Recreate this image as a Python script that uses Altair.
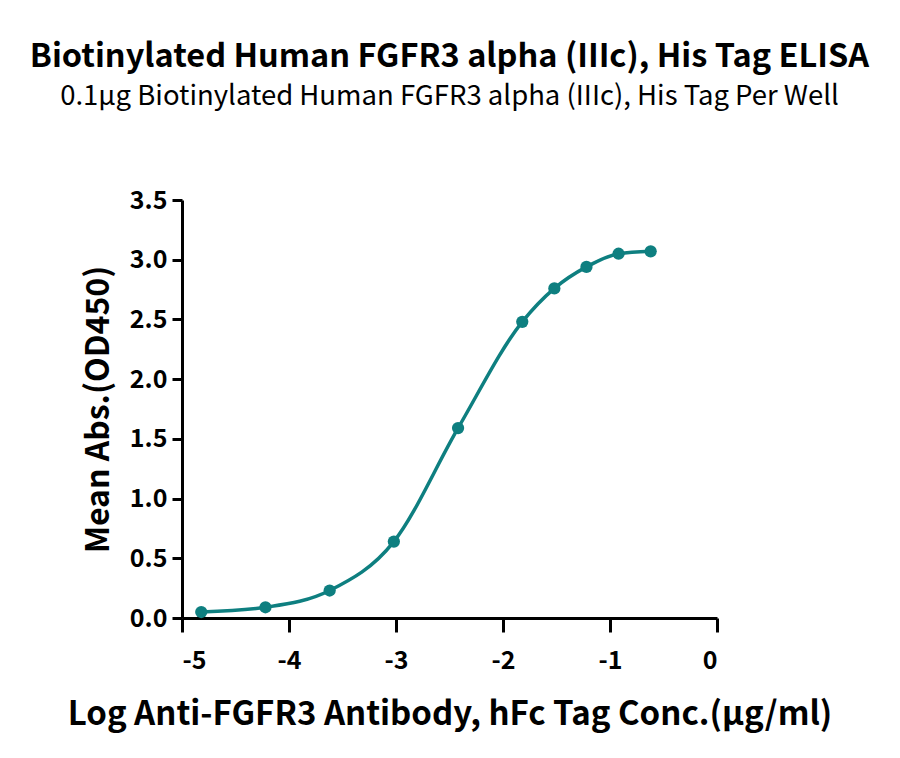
import altair as alt
import pandas as pd

# log10 concentration (ug/ml) and mean OD450
log_conc = [-4.82, -4.22, -3.62, -3.02, -2.42, -1.82, -1.52, -1.22, -0.92, -0.62]
od450 = [0.05, 0.09, 0.23, 0.64, 1.59, 2.48, 2.76, 2.94, 3.05, 3.07]

x_ticks = [-5, -4, -3, -2, -1, 0]
y_ticks = [0, 0.5, 1.0, 1.5, 2.0, 2.5, 3.0, 3.5]

teal = "#0E7F80"
font = "Noto Sans CJK SC"

df = pd.DataFrame({"x": log_conc, "y": od450})

x_enc = alt.X(
    "x:Q",
    scale=alt.Scale(domain=[-5, 0], nice=False, zero=False),
    axis=alt.Axis(
        values=x_ticks,
        labelExpr="datum.value < 0 ? '-' + abs(datum.value) : '' + datum.value",
        title="Log Anti-FGFR3 Antibody, hFc Tag Conc.(μg/ml)",
        titleFontSize=33,
        titlePadding=25,
        labelPadding=16,
        tickSize=14,
    ),
)
y_enc = alt.Y(
    "y:Q",
    scale=alt.Scale(domain=[0, 3.5], nice=False),
    axis=alt.Axis(
        values=y_ticks,
        format=".1f",
        title="Mean Abs.(OD450)",
        titleFontSize=32,
        titlePadding=14,
        labelPadding=5,
        tickSize=10,
    ),
)

base = alt.Chart(df).encode(x=x_enc, y=y_enc)

line = base.mark_line(color=teal, strokeWidth=3.5, interpolate="monotone")
points = base.mark_circle(color=teal, opacity=1, size=150)

chart = (
    (line + points)
    .properties(
        width=535,
        height=418,
        autosize=alt.AutoSizeParams(type="none"),
        padding={"left": 174, "top": 192, "right": 175, "bottom": 132},
        title=alt.TitleParams(
            "Biotinylated Human FGFR3 alpha (IIIc), His Tag ELISA",
            subtitle="0.1μg Biotinylated Human FGFR3 alpha (IIIc), His Tag Per Well",
            anchor="middle",
            font=font,
            fontSize=32.5,
            fontWeight="bold",
            color="black",
            subtitleFont=font,
            subtitleFontSize=27.5,
            subtitleColor="black",
            subtitlePadding=9,
            offset=78,
        ),
    )
    .configure_view(stroke=None)
    .configure_axis(
        domainColor="black",
        domainWidth=3,
        tickColor="black",
        tickWidth=3,
        grid=False,
        labelFont=font,
        labelFontSize=25,
        labelFontWeight="bold",
        labelColor="black",
        titleFont=font,
        titleFontWeight="bold",
        titleColor="black",
    )
)

chart.save("out.html", embed_options={"renderer": "svg", "actions": False})
